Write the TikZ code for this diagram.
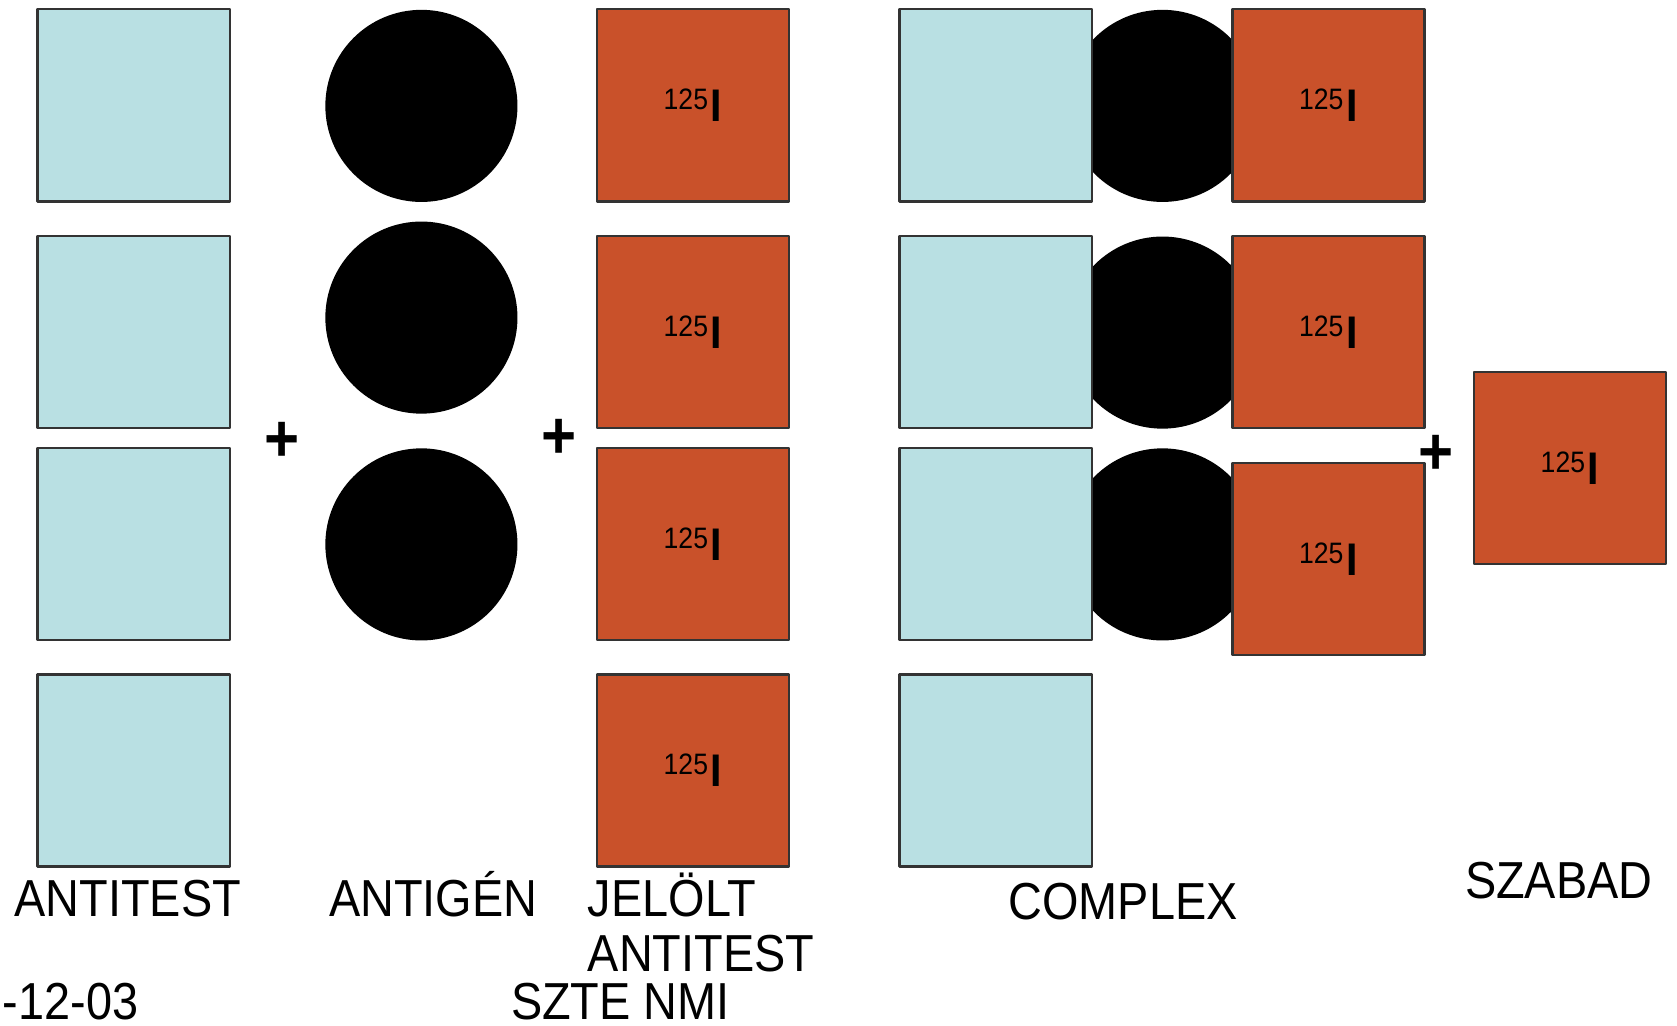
\documentclass[tikz,border=0pt]{standalone}
\usepackage{fontspec}
\setmainfont{Liberation Sans}[FakeStretch=0.9]
\usepackage{tikz}

\definecolor{abblue}{RGB}{185,224,227}
\definecolor{tagred}{RGB}{201,81,42}

\newcommand{\isotope}{125\hspace{0.8pt}\raisebox{-3.4pt}{\fontsize{13}{13}\selectfont\bfseries I}}

\begin{document}
\begin{tikzpicture}[line cap=round,line join=round,x=0.01cm,y=-0.01cm,
  antibody/.style={draw=black!80,line width=0.7pt,fill=abblue,minimum size=1.92cm,inner sep=0pt},
  tagged/.style={draw=black!80,line width=0.7pt,fill=tagred,minimum size=1.92cm,inner sep=0pt,font=\fontsize{8.4}{9}\selectfont},
  antigen/.style={circle,fill=black,minimum size=1.92cm,inner sep=0pt},
  plus/.style={font=\fontsize{19}{19}\selectfont\bfseries,inner sep=0pt},
  caption/.style={font=\fontsize{14.8}{16}\selectfont,inner sep=0pt}]
\useasboundingbox (0,0) rectangle (1677,1025);
% antitest
\node[antibody] (ab1) at (133.7,105.3) {};
\node[antibody] (ab2) at (133.7,332.1) {};
\node[antibody] (ab3) at (133.7,543.8) {};
\node[antibody] (ab4) at (133.7,770.6) {};
% antigen
\node[antigen] (ag1) at (421.4,105.9) {};
\node[antigen] (ag2) at (421.4,317.6) {};
\node[antigen] (ag3) at (421.4,544.4) {};
% jelolt antitest
\node[tagged] (tag1) at (693,105.3) {\isotope};
\node[tagged] (tag2) at (693,332.1) {\isotope};
\node[tagged] (tag3) at (693,543.8) {\isotope};
\node[tagged] (tag4) at (693,770.6) {\isotope};
% complex
\node[antigen] (cag1) at (1162.5,105.9) {};
\node[antigen] (cag2) at (1162.5,332.6) {};
\node[antigen] (cag3) at (1162.5,544.4) {};
\node[antibody] (cab1) at (995.7,105.3) {};
\node[antibody] (cab2) at (995.7,332.1) {};
\node[antibody] (cab3) at (995.7,543.8) {};
\node[antibody] (cab4) at (995.7,770.6) {};
\node[tagged] (ctag1) at (1328.3,105.3) {\isotope};
\node[tagged] (ctag2) at (1328.3,332.1) {\isotope};
\node[tagged] (ctag3) at (1328.3,558.8) {\isotope};
% szabad
\node[tagged] (free) at (1570,467.9) {\isotope};
% plus signs
\node[plus] (p1) at (282.3,441.7) {+};
\node[plus] (p2) at (559.3,438.5) {+};
\node[plus] (p3) at (1436.3,454.5) {+};
% captions
\node[caption,anchor=base] (cab) at (127.8,916.6) {ANTITEST};
\node[caption,anchor=base] (cag) at (433.1,916.6) {ANTIGÉN};
\node[caption,anchor=base west] (ctaga) at (587.2,916.6) {JELÖLT};
\node[caption,anchor=base west] (ctagb) at (587.2,971.1) {ANTITEST};
\node[caption,anchor=base] (ccpx) at (1123,919.8) {COMPLEX};
\node[caption,anchor=base] (cfree) at (1558.8,898.4) {SZABAD};
\node[caption,anchor=base west] (date) at (2.1,1019) {-12-03};
\node[caption,anchor=base] (szte) at (620.3,1019) {SZTE NMI};
\end{tikzpicture}
\end{document}
